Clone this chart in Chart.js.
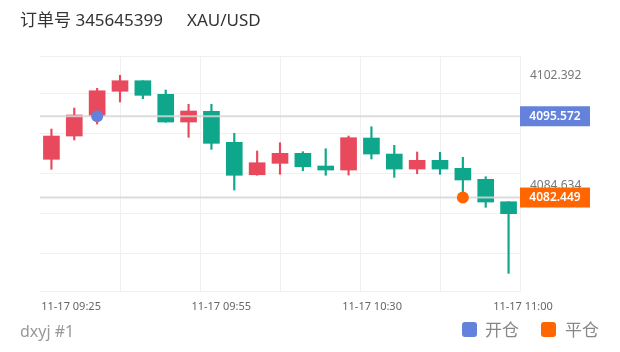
<!DOCTYPE html>
<html>
<head>
<meta charset="utf-8">
<script src="https://cdn.jsdelivr.net/npm/chart.js@4.4.1/dist/chart.umd.min.js"></script>
<style>
  html, body { margin: 0; padding: 0; background: #fff; }
  #wrap { position: relative; width: 620px; height: 352px; font-family: "Noto Sans", "Noto Sans CJK SC", sans-serif; }
  #c { position: absolute; left: 0; top: 0; }
  .t { position: absolute; white-space: pre; line-height: 20px; }
  .sq { position: absolute; width: 15px; height: 15px; border-radius: 3px; }
</style>
</head>
<body>
<div id="wrap">
  <canvas id="c" width="620" height="352"></canvas>
  <div class="t" style="left:20px;top:10px;font-size:17px;color:#333">订单号 345645399</div>
  <div class="t" style="left:187px;top:10px;font-size:17px;color:#333">XAU/USD</div>
  <div class="t" style="left:20px;top:321px;font-size:16px;color:#999">dxyj #1</div>
  <div class="sq" style="left:462px;top:322px;background:#6482dc"></div>
  <div class="t" style="left:485px;top:320px;font-size:17px;color:#888">开仓</div>
  <div class="sq" style="left:541px;top:322px;background:#ff6600"></div>
  <div class="t" style="left:565px;top:320px;font-size:17px;color:#888">平仓</div>
</div>
<script>
// candles, one per index
const opens  = [4088.62, 4092.38, 4095.69, 4099.60, 4101.31, 4099.11, 4094.64, 4096.37, 4091.36, 4086.13, 4087.97, 4089.59, 4087.54, 4086.89, 4092.06, 4089.47, 4087.05, 4088.46, 4087.17, 4085.39, 4081.77]
const closes = [4092.38, 4095.77, 4099.69, 4101.31, 4098.95, 4094.64, 4096.42, 4091.20, 4086.04, 4088.07, 4089.59, 4087.42, 4086.89, 4092.11, 4089.47, 4087.05, 4088.46, 4087.05, 4085.28, 4081.72, 4079.84]
const highs  = [4093.51, 4096.90, 4100.08, 4102.18, 4101.31, 4099.81, 4097.50, 4097.50, 4092.82, 4089.96, 4091.30, 4089.85, 4090.33, 4092.38, 4093.88, 4090.88, 4089.80, 4089.75, 4088.94, 4085.81, 4081.77]
const lows   = [4087.01, 4091.74, 4094.32, 4097.87, 4098.40, 4094.60, 4092.17, 4090.23, 4083.66, 4086.05, 4086.20, 4086.78, 4086.04, 4086.08, 4088.67, 4085.71, 4086.29, 4086.20, 4082.58, 4080.87, 4070.21]

// trades
const openIdx = 2
const openPrice = 4095.572
const closeIdx = 18
const closePrice = 4082.449

// axis ticks
const xLabels = ['11-17 09:25', '11-17 09:55', '11-17 10:30', '11-17 11:00']
const xLabelAt = [0.86, 7.43, 14.03, 20.63]
const xGridAt = [3, 6.5, 10, 13.5, 17, 20.5]
const yMin = 4067.36
const yMax = 4105.30
const yGridAt = [4105.30, 4099.325, 4092.867, 4086.409, 4079.951, 4073.493, 4067.36]
const yLabels = [4102.392, 4084.634]

const UP = '#e9495d'
const DOWN = '#0fa78b'
const BLUE = '#6482dc'
const ORANGE = '#ff6600'
const GRID = '#f0f0f0'
const NONE = 'rgba(0,0,0,0)'

const candleColor = opens.map((o, i) => closes[i] >= o ? UP : DOWN)

const hasVal = (arr, v) => arr.some(a => Math.abs(a - v) < 1e-6)

const markLabels = {
  id: 'markLabels',
  afterDraw(chart) {
    const ctx = chart.ctx
    const y = chart.scales.y
    const x0 = chart.chartArea.right
    ;[[openPrice, BLUE], [closePrice, ORANGE]].forEach(([p, c]) => {
      const py = y.getPixelForValue(p)
      ctx.save()
      ctx.fillStyle = c
      ctx.fillRect(x0, py - 10, 70, 20)
      ctx.fillStyle = '#fff'
      ctx.font = '600 12px "Noto Sans"'
      ctx.textAlign = 'center'
      ctx.textBaseline = 'middle'
      ctx.fillText(p.toFixed(3), x0 + 35, py + 0.5)
      ctx.restore()
    })
  }
}

const lineAt = (p) => [{ x: -0.5, y: p }, { x: 20.5, y: p }]

new Chart(document.getElementById('c'), {
  type: 'bar',
  data: {
    datasets: [{
      label: 'wick',
      data: opens.map((o, i) => ({ x: i, y: [lows[i], highs[i]] })),
      backgroundColor: candleColor,
      barThickness: 1.5,
      grouped: false,
      order: 3
    }, {
      label: 'body',
      data: opens.map((o, i) => ({ x: i, y: [o, closes[i]] })),
      backgroundColor: candleColor,
      barThickness: 16,
      minBarLength: 1,
      grouped: false,
      order: 2
    }, {
      type: 'line',
      label: 'openLine',
      data: lineAt(openPrice),
      borderColor: 'rgba(214,214,214,0.85)',
      borderWidth: 2,
      pointRadius: 0,
      order: 1
    }, {
      type: 'line',
      label: 'closeLine',
      data: lineAt(closePrice),
      borderColor: 'rgba(214,214,214,0.85)',
      borderWidth: 2,
      pointRadius: 0,
      order: 1
    }, {
      type: 'scatter',
      label: '开仓',
      data: [{ x: openIdx, y: openPrice }],
      backgroundColor: BLUE,
      borderWidth: 0,
      pointRadius: 6,
      order: 0
    }, {
      type: 'scatter',
      label: '平仓',
      data: [{ x: closeIdx, y: closePrice }],
      backgroundColor: ORANGE,
      borderWidth: 0,
      pointRadius: 6,
      order: 0
    }]
  },
  options: {
    responsive: false,
    animation: false,
    layout: { padding: { top: 56, left: 40, right: 0, bottom: 40 } },
    plugins: { legend: { display: false }, tooltip: { enabled: false } },
    scales: {
      x: {
        type: 'linear',
        offset: false,
        min: -0.5,
        max: 20.5,
        afterBuildTicks: (s) => { s.ticks = xGridAt.concat(xLabelAt).map(v => ({ value: v })) },
        afterFit: (s) => { s.height = 21 },
        grid: {
          offset: false,
          color: (c) => (c.tick && !hasVal(xGridAt, c.tick.value)) ? NONE : GRID,
          drawTicks: false
        },
        border: { display: true, color: GRID },
        ticks: {
          autoSkip: false,
          maxRotation: 0,
          padding: 9,
          color: '#666',
          font: { size: 11, family: 'Noto Sans' },
          callback: (v) => {
            const j = xLabelAt.findIndex(a => Math.abs(a - v) < 1e-6)
            return j >= 0 ? xLabels[j] : ''
          }
        }
      },
      y: {
        position: 'right',
        min: yMin,
        max: yMax,
        afterBuildTicks: (s) => { s.ticks = yGridAt.concat(yLabels).map(v => ({ value: v })) },
        afterFit: (s) => { s.width = 100 },
        grid: {
          color: (c) => (c.tick && !hasVal(yGridAt, c.tick.value)) ? NONE : GRID,
          drawTicks: false
        },
        border: { display: false },
        ticks: {
          padding: 10,
          labelOffset: 2,
          color: '#777',
          font: { size: 12, family: 'Noto Sans' },
          callback: (v) => hasVal(yLabels, v) ? v.toFixed(3) : ''
        }
      }
    }
  },
  plugins: [markLabels]
})
</script>
</body>
</html>
